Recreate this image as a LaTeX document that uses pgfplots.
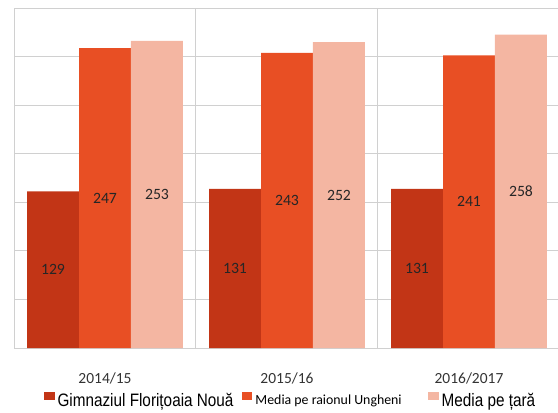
\documentclass[border=0pt]{standalone}
\usepackage{pgfplots}
\pgfplotsset{compat=1.18}
\usepackage{fontspec}
\setmainfont{Carlito}
\newfontfamily\arialf{Liberation Sans}
\usepackage{graphicx}
\definecolor{cA}{HTML}{C23516}
\definecolor{cB}{HTML}{E84F24}
\definecolor{cC}{HTML}{F4B6A2}
\definecolor{gridc}{HTML}{D0D0D0}
\begin{document}
\begin{tikzpicture}
\begin{axis}[
  at={(0pt,0pt)}, anchor=south west,
  scale only axis, width=409.5pt, height=255pt,
  xmin=-0.5, xmax=2.5, ymin=0, ymax=280,
  /pgf/number format/assume math mode=true,
  ytick={40,80,...,280}, yticklabels={}, ymajorgrids,
  xtick={0,1,2}, xticklabels={2014/15,2015/16,2016/2017},
  minor xtick={0.5,1.5}, xminorgrids,
  major tick length=0pt, minor tick length=0pt,
  grid style={draw=gridc, line width=0.75pt},
  minor grid style={draw=gridc, line width=0.75pt},
  axis line style={draw=gridc, line width=0.75pt},
  xticklabel style={anchor=base, yshift=-26.25pt, inner sep=0pt, font=\fontsize{11.6}{12}\selectfont, text=black!80},
  ybar, bar width=0.2857,
  nodes near coords,
  visualization depends on={rawy \as \rawy},
  every node near coord/.append style={anchor=center, yshift={-0.45536pt*\rawy}, font=\fontsize{11.8}{12}\selectfont, text=black!85},
  legend columns=3,
  legend style={at={(0.0549,-0.1529)}, anchor=west, draw=none, inner sep=0pt, nodes={inner sep=0pt}, column sep=0pt, /tikz/every odd column/.append style={column sep=2.25pt}},
  legend image code/.code={\fill[#1] (0pt,0.4pt) rectangle (7.7pt,6.9pt);},
]
\addplot[fill=cA, draw=none, bar shift=-0.2857] coordinates {(0,129) (1,131) (2,131)};
\addlegendentry{\scalebox{0.85}[1]{\arialf\fontsize{13.5}{14}\selectfont Gimnaziul Florițoaia Nouă}\kern6.5pt}
\addplot[fill=cB, draw=none, bar shift=0] coordinates {(0,247) (1,243) (2,241)};
\addlegendentry{\fontsize{10.4}{12}\selectfont Media pe raionul Ungheni\kern20pt}
\addplot[fill=cC, draw=none, bar shift=0.2857] coordinates {(0,253) (1,252) (2,258)};
\addlegendentry{\scalebox{0.85}[1]{\arialf\fontsize{13.5}{14}\selectfont Media pe țară}}
\end{axis}
\pgfresetboundingbox
\useasboundingbox (-10.5pt,-48pt) rectangle (408pt,261pt);
\end{tikzpicture}
\end{document}
